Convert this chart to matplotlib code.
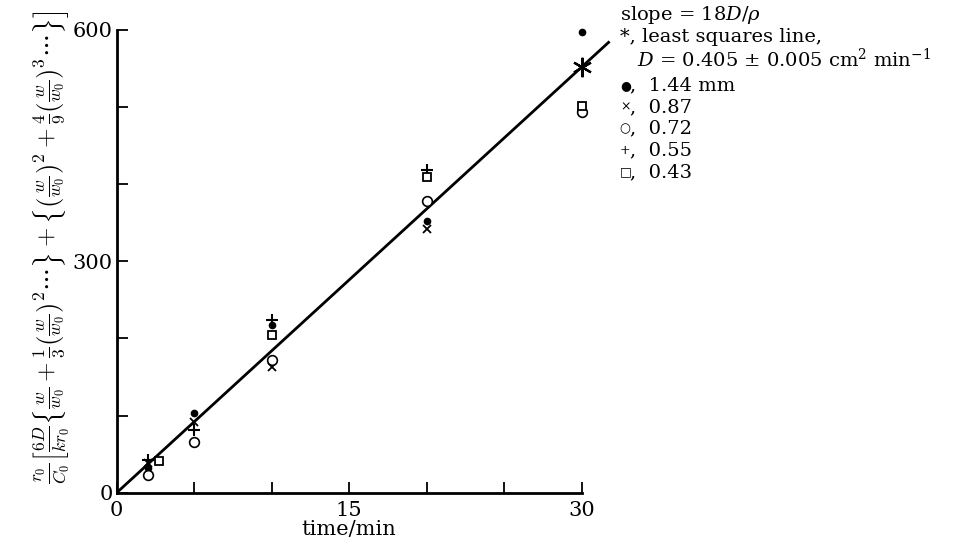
import matplotlib
matplotlib.use("Agg")
import matplotlib.pyplot as plt
import numpy as np

plt.rcParams['font.family'] = ['DejaVu Serif', 'DejaVu Sans']
plt.rcParams['mathtext.fontset'] = 'dejavuserif'

# time in minutes for each group of points
t_main = [2, 5, 10, 20, 30]
t_sq = [2.7, 5, 10, 20, 30]

# one list per particle diameter
y_144 = [32, 104, 218, 352, 598]      # filled circle, 1.44 mm
y_087 = [38, 92, 163, 342, np.nan]     # cross, 0.87
y_072 = [23, 66, 172, 378, 494]        # open circle, 0.72
y_055 = [43, 81, 224, 419, np.nan]     # plus, 0.55
y_043 = [41, np.nan, 205, 409, 501]    # square, 0.43

fit_slope = 18.4   # least squares line (slope = 18D/rho)
fit_tmax = 31.8
star_t = 30

fig = plt.figure(figsize=(9.55, 5.43), dpi=100)
ax = fig.add_axes([0.1222, 0.0926, 0.4869, 0.8522])

tl = np.array([0, fit_tmax])
ax.plot(tl, fit_slope * tl, color='black', lw=2.0, solid_capstyle='butt', clip_on=False)
ax.plot([star_t], [fit_slope * star_t], marker=(6, 2, 0), ms=14, mew=1.6,
        color='black', ls='none', clip_on=False)

ax.plot(t_main, y_144, 'o', color='black', ms=4.5, ls='none', clip_on=False)
ax.plot(t_main, y_087, 'x', color='black', ms=6, mew=1.3, ls='none', clip_on=False)
ax.plot(t_main, y_072, 'o', mfc='white', mec='black', ms=7, mew=1.2, ls='none', clip_on=False)
ax.plot(t_main, y_055, '+', color='black', ms=9, mew=1.5, ls='none', clip_on=False)
ax.plot(t_sq, y_043, 's', mfc='white', mec='black', ms=6, mew=1.3, ls='none', clip_on=False)

ax.set_xlim(0, 30)
ax.set_ylim(0, 600)
ax.spines['top'].set_visible(False)
ax.spines['right'].set_visible(False)
ax.spines['left'].set_linewidth(2)
ax.spines['bottom'].set_linewidth(2)

ax.set_xticks(np.arange(0, 31, 5))
ax.set_xticklabels(['0', '', '', '15', '', '', '30'])
ax.set_yticks(np.arange(0, 601, 100))
ax.set_yticklabels(['0', '', '', '300', '', '', '600'])
ax.tick_params(direction='in', length=8, width=1.3, labelsize=15, pad=6)
ax.tick_params(axis='y', pad=3)

ax.set_xlabel('time/min', fontsize=15, labelpad=0)
ylab = ax.set_ylabel(r'$\frac{r_0}{C_0}\left[\frac{6D}{kr_0}\left\{\frac{w}{w_0}+\frac{1}{3}'
                     r'\left(\frac{w}{w_0}\right)^2\cdots\right\}+\left\{\left(\frac{w}{w_0}\right)^2'
                     r'+\frac{4}{9}\left(\frac{w}{w_0}\right)^3\cdots\right\}\right]$',
                     fontsize=18)
ylab.set_math_fontfamily('cm')
ax.yaxis.set_label_coords(-0.096, 0.529)

# annotation block on the right
fs = 14
x0 = 0.649
fig.text(x0, 0.972, r'slope = 18$D/\rho$', fontsize=fs, va='center')
fig.text(x0, 0.932, '*, least squares line,', fontsize=fs, va='center')
fig.text(0.667, 0.891, r'$D$ = 0.405 ± 0.005 cm$^2$ min$^{-1}$', fontsize=fs, va='center')

legend_syms = ['●', '×', '○', '+', '□']
legend_labels = ['1.44 mm', '0.87', '0.72', '0.55', '0.43']
for i, (sym, lab) in enumerate(zip(legend_syms, legend_labels)):
    yy = 0.843 - i * 0.040
    fig.text(x0, yy, sym, fontsize=9, va='center')
    fig.text(x0 + 0.011, yy, ',  ' + lab, fontsize=fs, va='center')

fig.savefig('out.png', dpi=100)
